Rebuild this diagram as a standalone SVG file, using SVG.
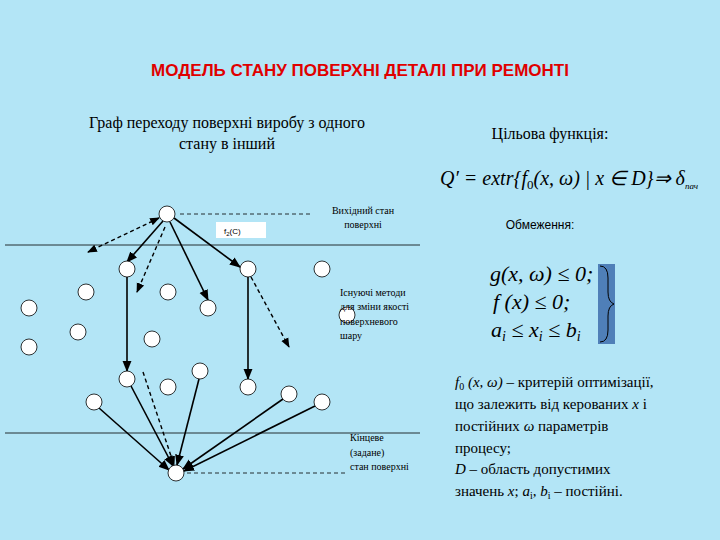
<svg xmlns="http://www.w3.org/2000/svg" width="720" height="540" viewBox="0 0 720 540">
<defs>
<marker id="ah" viewBox="0 0 10 10" refX="9" refY="5" markerWidth="7" markerHeight="7" orient="auto-start-reverse"><path d="M0,1 L10,5 L0,9 z" fill="#000"/></marker>
<style>
.n{fill:#fff;stroke:#000;stroke-width:0.8}
.s{stroke:#000;stroke-width:1.6;fill:none;marker-end:url(#ah)}
.d{stroke:#000;stroke-width:1.4;stroke-dasharray:4,3;fill:none;marker-end:url(#ah)}
.l{stroke:#000;stroke-width:0.8}
.sm{font-family:"Liberation Serif",serif;font-size:10px}
.t{font-family:"Liberation Serif",serif;font-size:16px}
.m{font-family:"Liberation Serif",serif;font-style:italic}
</style>
</defs>
<rect width="720" height="540" fill="#b3e5f6"/>
<text x="360" y="76" text-anchor="middle" font-family="Liberation Sans,sans-serif" font-weight="bold" font-size="17" fill="#e00000">МОДЕЛЬ СТАНУ ПОВЕРХНІ ДЕТАЛІ ПРИ РЕМОНТІ</text>
<text class="t" x="227" y="128" text-anchor="middle">Граф переходу поверхні виробу з одного</text>
<text class="t" x="227" y="149" text-anchor="middle">стану в інший</text>
<text class="t" x="550" y="139" text-anchor="middle">Цільова функція:</text>
<text class="m" x="440" y="185" font-size="20">Q′ = extr{f<tspan font-style="normal" font-size="13" dy="4">0</tspan><tspan dy="-4">(x, ω) | x ∈ D}⇒ δ</tspan><tspan font-size="9" dy="4">пач</tspan></text>
<text x="540" y="229" text-anchor="middle" font-family="Liberation Sans,sans-serif" font-size="12">Обмеження:</text>
<text class="m" x="490" y="281" font-size="22">g(x, ω) ≤ 0;</text>
<text class="m" x="493" y="309" font-size="22">f (x) ≤ 0;</text>
<text class="m" x="491" y="337" font-size="22">a<tspan font-size="14" dy="4">i</tspan><tspan dy="-4"> ≤ x</tspan><tspan font-size="14" dy="4">i</tspan><tspan dy="-4"> ≤ b</tspan><tspan font-size="14" dy="4">i</tspan></text>
<rect x="598" y="264" width="17" height="80" fill="#4f7fb8"/>
<path d="M600,266 q8,0 8,12 v14 q0,10 6,12 q-6,2 -6,12 v14 q0,12 -8,12" fill="none" stroke="#000" stroke-width="1"/>
<g font-family="Liberation Serif,serif" font-size="15">
<text x="455" y="387"><tspan font-style="italic">f</tspan><tspan font-size="10" dy="3">0</tspan><tspan dy="-3" font-style="italic"> (x, ω)</tspan> – критерій оптимізації,</text>
<text x="455" y="409">що залежить від керованих <tspan font-style="italic">x</tspan> і</text>
<text x="455" y="431">постійних <tspan font-style="italic">ω</tspan> параметрів</text>
<text x="455" y="453">процесу;</text>
<text x="455" y="474"><tspan font-style="italic">D</tspan> – область допустимих</text>
<text x="455" y="496">значень <tspan font-style="italic">x</tspan>; <tspan font-style="italic">a</tspan><tspan font-size="10" dy="3">i</tspan><tspan dy="-3">, </tspan><tspan font-style="italic">b</tspan><tspan font-size="10" dy="3">i</tspan><tspan dy="-3"> – постійні.</tspan></text>
</g>
<line class="l" x1="5" y1="245" x2="420" y2="245"/>
<line class="l" x1="5" y1="433" x2="420" y2="433"/>
<line x1="180" y1="214" x2="313" y2="214" stroke="#000" stroke-width="0.8" stroke-dasharray="4,3"/>
<line x1="187" y1="473" x2="347" y2="473" stroke="#000" stroke-width="0.8" stroke-dasharray="4,3"/>
<rect x="216" y="222" width="50" height="16" fill="#fff"/>
<text x="224" y="234" font-family="Liberation Sans,sans-serif" font-size="8">f<tspan font-size="6" dy="2">2</tspan><tspan dy="-2">(C)</tspan></text>
<g id="connectors">
<line class="s" x1="163" y1="221" x2="127" y2="262"/>
<line class="s" x1="170" y1="222" x2="208" y2="300"/>
<line class="s" x1="174" y1="218" x2="240" y2="267"/>
<path class="d" d="M159,218 L88,252" style="marker-start:url(#ah)"/>
<line class="d" x1="165" y1="227" x2="137" y2="292"/>
<line class="d" x1="251" y1="277" x2="289" y2="347"/>
<line class="s" x1="127" y1="277" x2="127" y2="371"/>
<line class="s" x1="248" y1="277" x2="248" y2="379"/>
<line class="d" x1="143" y1="372" x2="174" y2="465"/>
<line class="s" x1="131" y1="386" x2="173" y2="466"/>
<line class="s" x1="199" y1="379" x2="177" y2="465"/>
<line class="s" x1="99" y1="408" x2="169" y2="470"/>
<line class="s" x1="283" y1="399" x2="183" y2="469"/>
<line class="s" x1="315" y1="406" x2="184" y2="471"/>
</g>
<g id="nodes">
<circle id="n0" class="n" cx="167" cy="214" r="8"/>
<circle id="n1" class="n" cx="127" cy="269" r="8"/>
<circle id="n2" class="n" cx="248" cy="269" r="8"/>
<circle id="n3" class="n" cx="322" cy="269" r="8"/>
<circle id="n4" class="n" cx="86" cy="292" r="8"/>
<circle id="n5" class="n" cx="168" cy="292" r="8"/>
<circle id="n6" class="n" cx="29" cy="308" r="8"/>
<circle id="n7" class="n" cx="208" cy="308" r="8"/>
<circle id="n8" class="n" cx="347" cy="315" r="8"/>
<circle id="n9" class="n" cx="78" cy="332" r="8"/>
<circle id="n10" class="n" cx="152" cy="339" r="8"/>
<circle id="n11" class="n" cx="29" cy="347" r="8"/>
<circle id="n12" class="n" cx="127" cy="379" r="8"/>
<circle id="n13" class="n" cx="200" cy="371" r="8"/>
<circle id="n14" class="n" cx="168" cy="387" r="8"/>
<circle id="n15" class="n" cx="248" cy="387" r="8"/>
<circle id="n16" class="n" cx="94" cy="402" r="8"/>
<circle id="n17" class="n" cx="289" cy="394" r="8"/>
<circle id="n18" class="n" cx="322" cy="402" r="8"/>
<circle id="n19" class="n" cx="176" cy="473" r="8"/>
</g>
<g class="sm">
<text x="363" y="214" text-anchor="middle">Вихідний стан</text>
<text x="363" y="228" text-anchor="middle">поверхні</text>
<text x="340" y="296">Існуючі методи</text>
<text x="340" y="310">для зміни якості</text>
<text x="340" y="325">поверхневого</text>
<text x="340" y="339">шару</text>
<text x="350" y="441">Кінцеве</text>
<text x="350" y="456">(задане)</text>
<text x="350" y="470">стан поверхні</text>
</g>
</svg>
